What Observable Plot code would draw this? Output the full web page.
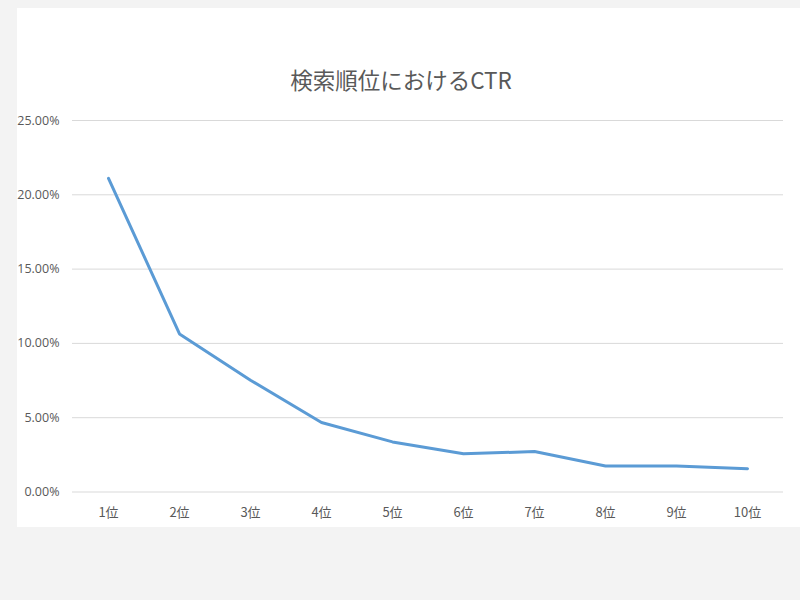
<!DOCTYPE html>
<html>
<head>
<meta charset="utf-8">
<script src="https://cdn.jsdelivr.net/npm/d3@7"></script>
<script src="https://cdn.jsdelivr.net/npm/@observablehq/plot@0.6"></script>
<style>
  html, body { margin: 0; padding: 0; width: 800px; height: 600px; background: #f3f3f3; overflow: hidden; }
  #frame { position: absolute; left: 17px; top: 8px; width: 783px; height: 519px; background: #ffffff; overflow: hidden; }
  #title { position: absolute; left: 0; top: 58px; width: 768px; text-align: center; font-family: "Noto Sans CJK JP", "Open Sans", sans-serif; font-size: 22.5px; color: #595959; line-height: 26px; }
  #chart { position: absolute; left: 0; top: 0; }
  #chart svg { overflow: visible; }
</style>
</head>
<body>
<div id="frame">
  <div id="chart"></div>
  <div id="title">検索順位におけるCTR</div>
</div>
<script>
const ranks = ["1位", "2位", "3位", "4位", "5位", "6位", "7位", "8位", "9位", "10位"];
const ctr = [0.2111, 0.1064, 0.0752, 0.0468, 0.0337, 0.0257, 0.0272, 0.0175, 0.0175, 0.0157];
const yTicks = [0, 0.05, 0.10, 0.15, 0.20, 0.25];

const data = ranks.map((r, i) => ({rank: r, ctr: ctr[i]}));

const chart = Plot.plot({
  width: 783,
  height: 519,
  marginLeft: 55,
  marginRight: 17,
  marginTop: 112,
  marginBottom: 35.5,
  style: { background: "transparent", fontFamily: "'Open Sans', 'Noto Sans CJK JP', sans-serif", color: "#595959" },
  x: { type: "point", domain: ranks, padding: 0.5, label: null },
  y: { domain: [0, 0.25], label: null },
  marks: [
    Plot.ruleY(yTicks, { stroke: "#d9d9d9", strokeWidth: 1 }),
    Plot.axisY({ ticks: yTicks, tickFormat: d3.format(".2%"), tickSize: 0, tickPadding: 13, fontSize: 12.5, fill: "#595959", label: null }),
    Plot.axisX({ tickSize: 0, tickPadding: 16, fontSize: 13, fill: "#595959", label: null, fontFamily: "'Noto Sans CJK JP', sans-serif", letterSpacing: "-0.5px" }),
    Plot.line(data, { x: "rank", y: "ctr", stroke: "#5b9bd5", strokeWidth: 3, strokeLinejoin: "round", strokeLinecap: "round" })
  ]
});
document.getElementById("chart").appendChild(chart);
</script>
</body>
</html>
